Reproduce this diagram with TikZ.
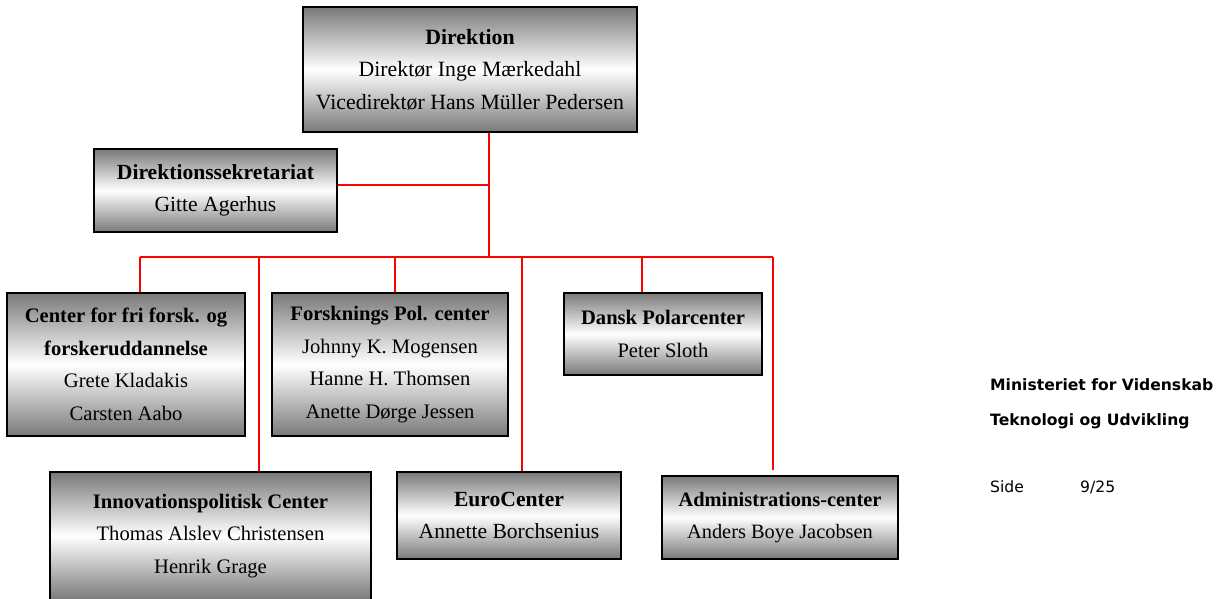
\documentclass[tikz,border=0pt]{standalone}
\usepackage{fontspec}
\setmainfont{Liberation Serif}
\newfontfamily\verd{DejaVu Sans}
\begin{document}
\begin{tikzpicture}[x=1pt,y=-1pt,
  box/.style={draw=black, line width=1.6pt, top color=gray!95!black, bottom color=gray!95!black, middle color=white,
     inner sep=0pt, align=center, font=\fontsize{21.6}{32.5}\selectfont},
  small/.style={font=\fontsize{20.6}{32.5}\selectfont},
  conn/.style={draw=red, line width=2.4pt},
  side/.style={anchor=base west, inner sep=0pt, font=\verd\fontsize{15.6}{18}\selectfont}]
\useasboundingbox (0,0) rectangle (1231,598);
\node[box, font=\fontsize{21.8}{32.5}\selectfont, minimum width=334, minimum height=125] (dir) at (470,69.5)
  {\textbf{Direktion}\\Direktør Inge Mærkedahl\\Vicedirektør Hans Müller Pedersen};
\node[box, minimum width=243, minimum height=83] (sek) at (215.5,190.5)
  {\textbf{Direktionssekretariat}\\Gitte Agerhus};
\node[box, small, minimum width=238, minimum height=143] (cff) at (126,364.5)
  {\textbf{Center for fri forsk. og}\\\textbf{forskeruddannelse}\\Grete Kladakis\\Carsten Aabo};
\node[box, small, minimum width=236, minimum height=143] (fpc) at (390,364.5)
  {\textbf{Forsknings Pol. center}\\Johnny K. Mogensen\\Hanne H. Thomsen\\Anette Dørge Jessen};
\node[box, small, minimum width=198, minimum height=82] (dpc) at (663,334)
  {\textbf{Dansk Polarcenter}\\Peter Sloth};
\node[box, small, minimum width=321, minimum height=128] (inn) at (210.5,536)
  {\textbf{Innovationspolitisk Center}\\Thomas Alslev Christensen\\Henrik Grage};
\node[box, minimum width=224, minimum height=87] (euro) at (509,515.5)
  {\textbf{EuroCenter}\\Annette Borchsenius};
\node[box, small, font=\fontsize{20.4}{32.5}\selectfont, minimum width=236, minimum height=83] (adm) at (780,517.5)
  {\textbf{Administrations-center}\\Anders Boye Jacobsen};
\coordinate (j) at (489,257);
\coordinate (s) at (489,185);
\coordinate (b1) at (140,257);
\coordinate (b2) at (259,257);
\coordinate (b3) at (395,257);
\coordinate (b4) at (522,257);
\coordinate (b5) at (642,257);
\coordinate (b6) at (773,257);
\draw[conn] (dir.south -| j) -- (j);
\draw[conn] (sek.east |- s) -- (s);
\draw[conn] (b1) -- (b6);
\draw[conn] (b1) -- (cff.north -| b1);
\draw[conn] (b2) -- (inn.north -| b2);
\draw[conn] (b3) -- (fpc.north -| b3);
\draw[conn] (b4) -- (euro.north -| b4);
\draw[conn] (b5) -- (dpc.north -| b5);
\draw[conn] (b6) -- ([yshift=5pt]adm.north -| b6);
\node[side] (m1) at (990,390) {\textbf{Ministeriet for Videnskab}};
\node[side] (m2) at (990,425) {\textbf{Teknologi og Udvikling}};
\node[side] (m3) at (990,492) {Side};
\node[side] (m4) at (1080,492) {9/25};
\end{tikzpicture}
\end{document}
